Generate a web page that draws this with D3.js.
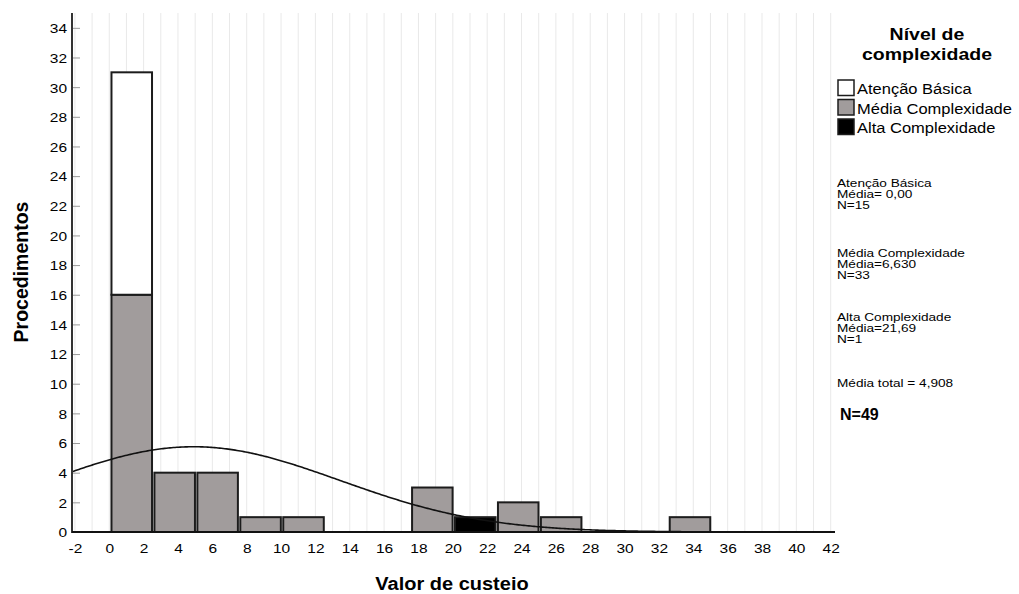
<!DOCTYPE html>
<html><head><meta charset="utf-8">
<script src="https://cdn.jsdelivr.net/npm/d3@7"></script>
<style>
body{margin:0;background:#fff}
svg{display:block}
text{font-family:Arial,"Liberation Sans",sans-serif;fill:#000}
</style>
</head><body>
<svg id="c" width="1019" height="594"></svg>
<script>
// ---- data ----
const binStarts = [0, 2.5, 5, 7.5, 10, 12.5, 15, 17.5, 20, 22.5, 25, 27.5, 30, 32.5];
const binWidth = 2.5;
const mediaCounts   = [16, 4, 4, 1, 1, 0, 0, 3, 0, 2, 1, 0, 0, 1];
const altaCounts    = [0, 0, 0, 0, 0, 0, 0, 0, 1, 0, 0, 0, 0, 0];
const atencaoCounts = [15, 0, 0, 0, 0, 0, 0, 0, 0, 0, 0, 0, 0, 0];
const seriesKeys = ["media", "alta", "atencao"];
const seriesNames = {atencao: "Atenção Básica", media: "Média Complexidade", alta: "Alta Complexidade"};
const seriesColors = {atencao: "#ffffff", media: "#a19c9c", alta: "#000000"};
const legendOrder = ["atencao", "media", "alta"];
const xTicks = [-2,0,2,4,6,8,10,12,14,16,18,20,22,24,26,28,30,32,34,36,38,40,42];
const yTicks = [0,2,4,6,8,10,12,14,16,18,20,22,24,26,28,30,32,34];
const curveMean = 4.908, curveSD = 8.5, curveN = 49;
const annotations = [
  ["Atenção Básica", "Média= 0,00", "N=15"],
  ["Média Complexidade", "Média=6,630", "N=33"],
  ["Alta Complexidade", "Média=21,69", "N=1"],
  ["Média total = 4,908"]
];
const totalLabel = "N=49";

// ---- chart ----
const svg = d3.select("#c");
const x = d3.scaleLinear().domain([-2.17, 42.25]).range([72, 835]);
const y = d3.scaleLinear().domain([0, 35]).range([532, 13]);

// gridlines (every unit)
svg.append("g").selectAll("line").data(x.ticks(45)).join("line")
  .attr("x1", d => x(d)).attr("x2", d => x(d))
  .attr("y1", y(35)).attr("y2", y(0))
  .attr("stroke", "#e9e9e9").attr("stroke-width", 1);

// stacked bars
const table = binStarts.map((s, i) => ({start: s, media: mediaCounts[i], alta: altaCounts[i], atencao: atencaoCounts[i]}));
const stacked = d3.stack().keys(seriesKeys)(table);
const gb = svg.append("g");
stacked.forEach(layer => {
  gb.selectAll(null).data(layer.filter(d => d[1] > d[0])).join("rect")
    .attr("x", d => x(d.data.start) + 2.2)
    .attr("width", d => x(d.data.start + binWidth) - x(d.data.start) - 2.4)
    .attr("y", d => y(d[1]))
    .attr("height", d => y(d[0]) - y(d[1]))
    .attr("fill", seriesColors[layer.key])
    .attr("stroke", "#1c1c1c").attr("stroke-width", 2);
});

// normal curve
const xs = d3.range(x.domain()[0], x.domain()[1] + 0.001, 0.1);
const dens = v => curveN * binWidth / (curveSD * Math.sqrt(2 * Math.PI)) * Math.exp(-((v - curveMean) ** 2) / (2 * curveSD * curveSD));
svg.append("path").datum(xs)
  .attr("d", d3.line().x(d => x(d)).y(d => y(dens(d))))
  .attr("fill", "none").attr("stroke", "#111").attr("stroke-width", 1.6);

// axes
const ya = svg.append("g").attr("transform", `translate(${x.range()[0]},0)`)
  .call(d3.axisLeft(y).tickValues(yTicks).tickFormat(d => String(d)).tickSize(-8).tickPadding(5));
ya.select(".domain").remove();
ya.selectAll(".tick line").attr("stroke", "#9a9a9a").attr("x1", 1);
ya.selectAll(".tick text").attr("font-size", 15.5).attr("font-family", null)
  .attr("transform", "scale(1,0.87)").attr("dy", "0.36em");

const xa = svg.append("g").attr("transform", `translate(0,${y(0)})`)
  .call(d3.axisBottom(x).tickValues(xTicks).tickFormat(d => String(d)).tickSize(0));
xa.select(".domain").remove();
xa.selectAll(".tick text").attr("font-size", 15.5).attr("font-family", null)
  .attr("dy", 0).attr("y", 24.7).attr("transform", "scale(1,0.87)");

svg.append("line").attr("x1", x.range()[0]).attr("x2", x.range()[0])
  .attr("y1", y.range()[1]).attr("y2", y(0) + 1).attr("stroke", "#333").attr("stroke-width", 2);
svg.append("line").attr("x1", x.range()[0]).attr("x2", x.range()[1])
  .attr("y1", y(0)).attr("y2", y(0)).attr("stroke", "#111").attr("stroke-width", 2);

// text helper
function txt(x0, y0, s, size, weight, anchor, sx, sy) {
  return svg.append("text")
    .attr("transform", `translate(${x0},${y0}) scale(${sx},${sy})`)
    .attr("font-size", size).attr("font-weight", weight).attr("text-anchor", anchor).text(s);
}

// axis titles
svg.append("text").attr("transform", "translate(28,272) rotate(-90)")
  .attr("font-size", 19.5).attr("font-weight", "bold").attr("text-anchor", "middle").text("Procedimentos");
txt(452, 590, "Valor de custeio", 20, "bold", "middle", 1, 0.92);

// legend
txt(927, 39.5, "Nível de", 19.5, "bold", "middle", 1, 0.87);
txt(927, 59.5, "complexidade", 19.5, "bold", "middle", 1, 0.87);
legendOrder.forEach((k, i) => {
  svg.append("rect").attr("x", 838).attr("y", 80 + i * 19.5).attr("width", 16).attr("height", 15.5)
    .attr("fill", seriesColors[k]).attr("stroke", "#1c1c1c").attr("stroke-width", 1.5);
  txt(857, 94.3 + i * 19.5, seriesNames[k], 16.5, "normal", "start", 1, 0.87);
});

// annotations
const annBase = [[187, 197.8, 208.6], [257, 267.8, 278.6], [321, 331.8, 342.6], [387.3]];
annotations.forEach((grp, gi) => {
  grp.forEach((line, li) => {
    txt(837, annBase[gi][li], line, 12.5, "normal", "start", 1.09, 0.8);
  });
});
txt(840, 420, totalLabel, 16, "bold", "start", 1, 1);
</script>
</body></html>
